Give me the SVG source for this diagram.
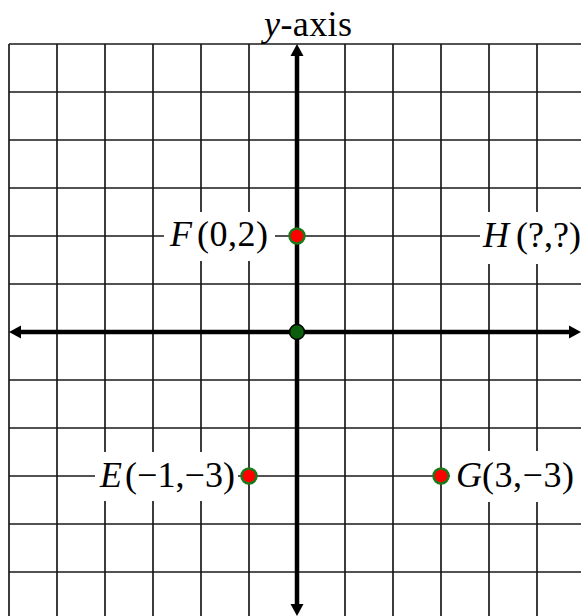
<svg xmlns="http://www.w3.org/2000/svg" width="581" height="616" viewBox="0 0 581 616">
<style>
.grid line{stroke:#1a1a1a;stroke-width:1.7}
.axis{stroke:#000;stroke-width:4.5}
.head{fill:#000}
.pt{fill:#ff0000;stroke:#1a7a1a;stroke-width:2.5}
.org{fill:#0b5e0b;stroke:#000;stroke-width:1.5}
.lbl{font-family:"Liberation Serif","Times New Roman",serif;font-size:36px;fill:#000}
.it{font-style:italic}
.bg{fill:#fff}
</style>
<rect width="581" height="616" fill="#fff"/>
<g class="grid" id="grid">
<line x1="9" y1="44" x2="9" y2="616"/>
<line x1="57" y1="44" x2="57" y2="616"/>
<line x1="105" y1="44" x2="105" y2="616"/>
<line x1="153" y1="44" x2="153" y2="616"/>
<line x1="201" y1="44" x2="201" y2="616"/>
<line x1="249" y1="44" x2="249" y2="616"/>
<line x1="345" y1="44" x2="345" y2="616"/>
<line x1="393" y1="44" x2="393" y2="616"/>
<line x1="441" y1="44" x2="441" y2="616"/>
<line x1="489" y1="44" x2="489" y2="616"/>
<line x1="537" y1="44" x2="537" y2="616"/>
<line x1="9" y1="44" x2="581" y2="44"/>
<line x1="9" y1="92" x2="581" y2="92"/>
<line x1="9" y1="140" x2="581" y2="140"/>
<line x1="9" y1="188" x2="581" y2="188"/>
<line x1="9" y1="236" x2="581" y2="236"/>
<line x1="9" y1="284" x2="581" y2="284"/>
<line x1="9" y1="380" x2="581" y2="380"/>
<line x1="9" y1="428" x2="581" y2="428"/>
<line x1="9" y1="476" x2="581" y2="476"/>
<line x1="9" y1="524" x2="581" y2="524"/>
<line x1="9" y1="572" x2="581" y2="572"/>
</g>
<g id="connectors">
<line class="axis" x1="20" y1="332" x2="570" y2="332"/>
<polygon class="head" points="9,332 21,325.5 21,338.5"/>
<polygon class="head" points="581,332 569,325.5 569,338.5"/>
<line class="axis" x1="297" y1="55" x2="297" y2="605"/>
<polygon class="head" points="297,44 290.5,56 303.5,56"/>
<polygon class="head" points="297,616 290.5,604 303.5,604"/>
</g>
<g id="y-axis-label">
<text class="lbl" x="264" y="36" style="font-size:36px" textLength="88"><tspan class="it">y</tspan>-axis</text>
</g>
<g id="origin">
<circle class="org" cx="297" cy="332" r="7.5"/>
</g>
<g id="F">
<rect class="bg" x="164" y="212" width="111" height="49"/>
<text class="lbl" y="246"><tspan class="it" x="170">F</tspan><tspan x="197" textLength="71">(0,2)</tspan></text>
<circle class="pt" cx="297" cy="236" r="7.5"/>
</g>
<g id="H">
<rect class="bg" x="480" y="212" width="101" height="52"/>
<text class="lbl" y="247"><tspan class="it" x="483">H</tspan><tspan x="516" textLength="65">(?,?)</tspan></text>
</g>
<g id="E">
<rect class="bg" x="95" y="452" width="143" height="49"/>
<text class="lbl" y="487"><tspan class="it" x="100">E</tspan><tspan x="125" textLength="110">(−1,−3)</tspan></text>
<circle class="pt" cx="249" cy="476" r="7.5"/>
</g>
<g id="G">
<rect class="bg" x="450" y="451" width="131" height="51"/>
<text class="lbl" y="487"><tspan class="it" x="456">G</tspan><tspan x="482" textLength="92">(3,−3)</tspan></text>
<circle class="pt" cx="441" cy="476" r="7.5"/>
</g>
</svg>
